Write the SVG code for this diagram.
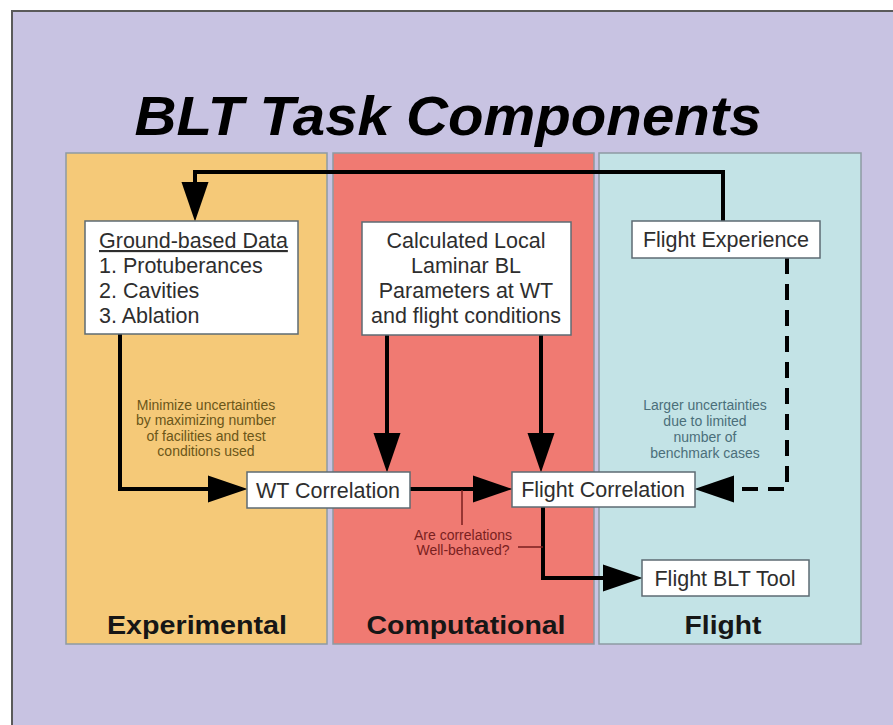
<svg xmlns="http://www.w3.org/2000/svg" width="893" height="725" viewBox="0 0 893 725">
<style>
.col{stroke:#8d9ba3;stroke-width:1.5}
.box{fill:#ffffff;stroke:#5d6b73;stroke-width:1.5}
.bt{font-family:"Liberation Sans",Arial,sans-serif;font-size:21.5px;fill:#2e2e2e}
.ct{font-family:"Liberation Sans",Arial,sans-serif;font-size:26px;font-weight:bold;fill:#161616}
.note{font-family:"Liberation Sans",Arial,sans-serif;font-size:14px;text-anchor:middle}
.arr{fill:none;stroke:#000;stroke-width:4;marker-end:url(#ah)}
.dash{fill:none;stroke:#000;stroke-width:4;stroke-dasharray:16 10;marker-end:url(#ah)}
.red{fill:none;stroke:#7a1f1f;stroke-width:1.5}
</style>
<defs>
<marker id="ah" markerUnits="userSpaceOnUse" markerWidth="40" markerHeight="28" viewBox="0 0 38 26" refX="28" refY="13" orient="auto">
<path d="M0,0 L38,13 L0,26 Z" fill="#000"/>
</marker>
</defs>
<rect x="0" y="0" width="893" height="725" fill="#ffffff"/>
<rect x="12" y="11" width="885" height="720" fill="#c8c3e2" stroke="#5a5a5a" stroke-width="2"/>
<text x="448" y="135" text-anchor="middle" font-family="'Liberation Sans',Arial,sans-serif" font-size="55" font-weight="bold" font-style="italic" fill="#000" textLength="627" lengthAdjust="spacingAndGlyphs">BLT Task Components</text>

<g id="col-experimental">
<rect class="col" x="66" y="153" width="261" height="491" fill="#f5c978"/>
<text class="ct" x="197" y="634" text-anchor="middle" textLength="180" lengthAdjust="spacingAndGlyphs">Experimental</text>
</g>
<g id="col-computational">
<rect class="col" x="333" y="153" width="261" height="491" fill="#f07a72"/>
<text class="ct" x="466" y="634" text-anchor="middle" textLength="199" lengthAdjust="spacingAndGlyphs">Computational</text>
</g>
<g id="col-flight">
<rect class="col" x="599" y="153" width="262" height="491" fill="#c3e3e6"/>
<text class="ct" x="723" y="634" text-anchor="middle" textLength="77" lengthAdjust="spacingAndGlyphs">Flight</text>
</g>

<g id="connectors">
<path class="arr" d="M723,221 V172 H195 V211"/>
<path class="arr" d="M120,334 V489 H237"/>
<path class="arr" d="M387,335 V462"/>
<path class="arr" d="M541,335 V462"/>
<path class="arr" d="M410,489 H502"/>
<path class="arr" d="M543,507 V578 H632"/>
<path class="dash" d="M787,258 V489 H705"/>
<path class="red" d="M462,490 V525"/>
<path class="red" d="M518,547 H543"/>
</g>

<g id="ground-data">
<rect class="box" x="85" y="221" width="213" height="113"/>
<text class="bt" x="99" y="248" text-decoration="underline">Ground-based Data</text>
<text class="bt" x="99" y="273">1.  Protuberances</text>
<text class="bt" x="99" y="298">2.  Cavities</text>
<text class="bt" x="99" y="323">3.  Ablation</text>
</g>

<g id="calc-params">
<rect class="box" x="362" y="222" width="209" height="113"/>
<text class="bt" x="466" y="248" text-anchor="middle">Calculated Local</text>
<text class="bt" x="466" y="273" text-anchor="middle">Laminar BL</text>
<text class="bt" x="466" y="298" text-anchor="middle">Parameters at WT</text>
<text class="bt" x="466" y="323" text-anchor="middle">and flight conditions</text>
</g>

<g id="flight-experience">
<rect class="box" x="632" y="221" width="188" height="37"/>
<text class="bt" x="726" y="247" text-anchor="middle">Flight Experience</text>
</g>

<g id="wt-correlation">
<rect class="box" x="247" y="472" width="163" height="36"/>
<text class="bt" x="328" y="498" text-anchor="middle">WT Correlation</text>
</g>

<g id="flight-correlation">
<rect class="box" x="512" y="472" width="183" height="35"/>
<text class="bt" x="603" y="497" text-anchor="middle">Flight Correlation</text>
</g>

<g id="flight-blt-tool">
<rect class="box" x="642" y="560" width="167" height="36"/>
<text class="bt" x="725" y="586" text-anchor="middle">Flight BLT Tool</text>
</g>

<g id="note-minimize" fill="#6b5618">
<text class="note" x="206" y="410">Minimize uncertainties</text>
<text class="note" x="206" y="425">by maximizing number</text>
<text class="note" x="206" y="441">of facilities and test</text>
<text class="note" x="206" y="456">conditions used</text>
</g>

<g id="note-larger" fill="#4b6f7a">
<text class="note" x="705" y="410">Larger uncertainties</text>
<text class="note" x="705" y="426">due to limited</text>
<text class="note" x="705" y="442">number of</text>
<text class="note" x="705" y="458">benchmark cases</text>
</g>

<g id="note-wellbehaved" fill="#7a1f1f">
<text class="note" x="463" y="540">Are correlations</text>
<text class="note" x="463" y="555">Well-behaved?</text>
</g>
</svg>
